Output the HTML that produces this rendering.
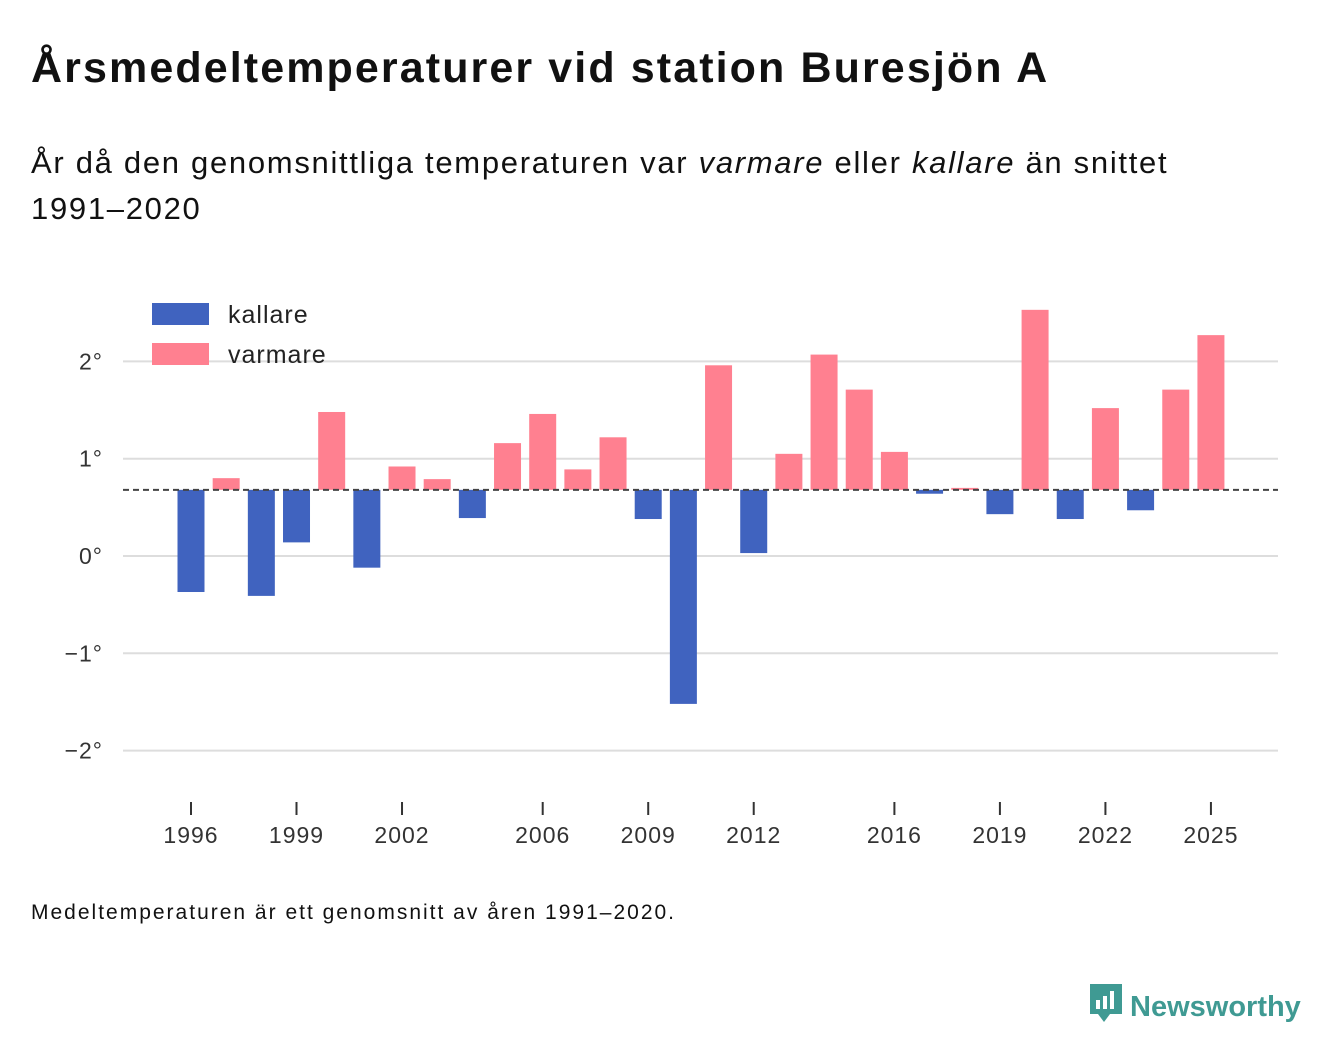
<!DOCTYPE html>
<html><head><meta charset="utf-8"><style>
body{margin:0;background:#fff;font-family:"Liberation Sans",sans-serif;color:#111;}
#wrap{position:relative;width:1340px;height:1056px;overflow:hidden}
h1{position:absolute;left:31px;top:44px;margin:0;font-size:43px;font-weight:bold;letter-spacing:2.1px}
#sub{position:absolute;left:31px;top:140px;margin:0;font-size:31px;line-height:46px;width:1200px;letter-spacing:1.7px}
#note{position:absolute;left:31px;top:901px;font-size:21px;letter-spacing:2px}
#logo{position:absolute;left:1088px;top:982px;font-size:29px;font-weight:bold;color:#3f9a93}
</style></head><body><div id="wrap">
<h1>Årsmedeltemperaturer vid station Buresjön A</h1>
<p id="sub">År då den genomsnittliga temperaturen var <i>varmare</i> eller <i>kallare</i> än snittet<br>1991–2020</p>
<svg id="chart" width="1340" height="1056" style="position:absolute;left:0;top:0"></svg>
<div id="note">Medeltemperaturen är ett genomsnitt av åren 1991–2020.</div>
<div id="logo"><svg width="36" height="42" viewBox="0 0 36 42" style="vertical-align:-8px;margin-right:6px"><path d="M2 2h32v30H22l-6 8-6-8H2z" fill="#3f9a93"/><rect x="8" y="18" width="4" height="9" fill="#fff"/><rect x="15" y="14" width="4" height="13" fill="#fff"/><rect x="22" y="9" width="4" height="18" fill="#fff"/></svg>Newsworthy</div>
</div>
<script>
const years=[1996,1997,1998,1999,2000,2001,2002,2003,2004,2005,2006,2007,2008,2009,2010,2011,2012,2013,2014,2015,2016,2017,2018,2019,2020,2021,2022,2023,2024,2025];
const temps=[-0.37,0.80,-0.41,0.14,1.48,-0.12,0.92,0.79,0.39,1.16,1.46,0.89,1.22,0.38,-1.52,1.96,0.03,1.05,2.07,1.71,1.07,0.64,0.70,0.43,2.53,0.38,1.52,0.47,1.71,2.27];
const baseline=0.68;
const yTicks=[2,1,0,-1,-2];
const yTickLabels=["2°","1°","0°","−1°","−2°"];
const xTickYears=[1996,1999,2002,2006,2009,2012,2016,2019,2022,2025];
const svg=document.getElementById('chart');const NS='http://www.w3.org/2000/svg';
const y=v=>556-v*97.3;const x=yr=>191+(yr-1996)*35.17;
function mk(t,a){const e=document.createElementNS(NS,t);for(const k in a)e.setAttribute(k,a[k]);svg.appendChild(e);return e;}
yTicks.forEach((v,i)=>{
 const l=mk('line',{x1:123,x2:1278,y1:y(v),y2:y(v),stroke:'#ddd','stroke-width':2});
 
 
 const t=mk('text',{x:103,y:y(v)+8,'text-anchor':'end','font-size':23,fill:'#333','letter-spacing':1});t.textContent=yTickLabels[i];
 
 
});
years.forEach((yr,i)=>{
 const v=temps[i];const top=Math.min(y(v),y(baseline)),h=Math.abs(y(v)-y(baseline));
 const r=mk('rect',{x:x(yr)-13.5,y:top,width:27,height:Math.max(h,1),fill:v>=baseline?'#ff8090':'#4063bf'});
 
 
});
const bl=mk('line',{x1:123,x2:1278,y1:y(baseline),y2:y(baseline),stroke:'#444','stroke-width':2,'stroke-dasharray':'6,4'});


xTickYears.forEach(yr=>{
 const l=mk('line',{x1:x(yr),x2:x(yr),y1:802,y2:815,stroke:'#333','stroke-width':2});
 
 
 const t=mk('text',{x:x(yr),y:843,'text-anchor':'middle','font-size':23,fill:'#333','letter-spacing':1});t.textContent=yr;
 
 
});
[['kallare','#4063bf',303],['varmare','#ff8090',343]].forEach(([n,c,yy])=>{
 const r=mk('rect',{x:152,y:yy,width:57,height:22,fill:c});
 
 
 const t=mk('text',{x:228,y:yy+20,'font-size':25,fill:'#222','letter-spacing':1});t.textContent=n;
 
 
});
</script></body></html>
